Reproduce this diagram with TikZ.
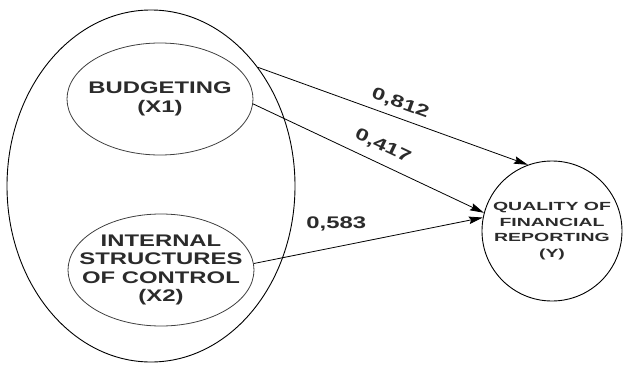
\documentclass[tikz,border=0pt]{standalone}
\usepackage{fontspec}
\newfontfamily\lblfont{Liberation Sans Bold}[FakeStretch=1.42]
\newfontfamily\yfont{Liberation Sans Bold}[FakeStretch=1.65]
\usetikzlibrary{shapes.geometric,arrows.meta}
\definecolor{txtgray}{HTML}{2B2B2B}
\tikzstyle{var_o} = [ellipse, draw=black, line width=0.9pt, minimum width=288pt, minimum height=352pt, inner sep=0pt]
\tikzstyle{var_x} = [ellipse, draw=black!75, line width=0.8pt, minimum width=186pt, minimum height=112pt, inner sep=0pt]
\tikzstyle{var_t} = [align=center, text=txtgray, inner sep=0pt, font=\lblfont\fontsize{16.8}{18.5}\selectfont]
\tikzstyle{var_y} = [circle, draw=black, line width=0.9pt, minimum size=140pt, inner sep=0pt, align=center, text=txtgray, font=\yfont\fontsize{11.8}{15.5}\selectfont]
\tikzstyle{coef} = [inner sep=0pt, text=txtgray, font=\lblfont\fontsize{16.8}{18.5}\selectfont]
\tikzstyle{path_a} = [->, >={Stealth[length=14pt,width=7.5pt,inset=2pt]}, line width=0.8pt, black]

\begin{document}
\begin{tikzpicture}[x=1pt,y=-1pt]
\useasboundingbox (0,0) rectangle (624,367);
\node [var_o] (outer) at (151,186) {};
\node [var_x] (x1) at (160,99) {};
\node [var_t] (x1txt) at (x1.center) {BUDGETING\\(X1)};
\node [var_x] (x2) at (161,270) {};
\node [var_t] (x2txt) at (x2.center) {INTERNAL\\STRUCTURES\\OF CONTROL\\(X2)};
\node [var_y] (y) at (552,231) {QUALITY OF\\FINANCIAL\\REPORTING\\(Y)};
% paths
\draw [path_a] (outer.48) -- node [coef, sloped, above=6.5pt, pos=0.51] (c1) {0,812} (y.110.7);
\draw [path_a] (x1.-3) -- node [coef, sloped, above=9.5pt, pos=0.53] (c2) {0,417} (y.165);
\draw [path_a] (x2.4) -- node [coef, above=15.5pt, pos=0.36] (c3) {0,583} (y.169);
\end{tikzpicture}
\end{document}
